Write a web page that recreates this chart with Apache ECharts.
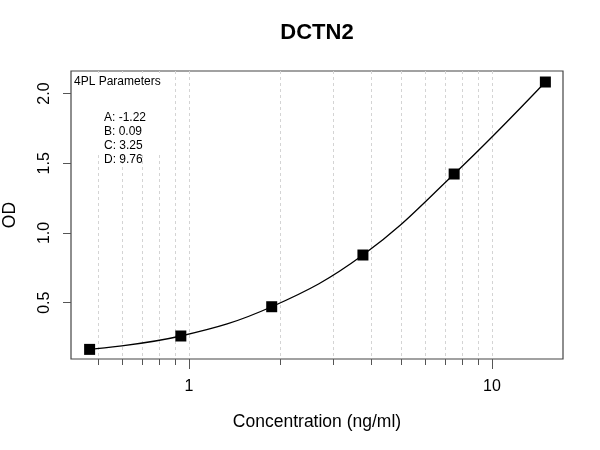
<!DOCTYPE html>
<html>
<head>
<meta charset="utf-8">
<script src="https://cdn.jsdelivr.net/npm/echarts@6/dist/echarts.min.js"></script>
<style>
  html, body { margin: 0; padding: 0; background: #fff; }
  #chart { width: 600px; height: 450px; }
</style>
</head>
<body>
<div id="chart"></div>
<script>
// standard points (ng/ml, OD)
const concentrations = [0.47, 0.94, 1.875, 3.75, 7.5, 15];
const odValues = [0.165, 0.261, 0.471, 0.842, 1.423, 2.083];

// axis ticks
const xMinorTicks = [0.5, 0.6, 0.7, 0.8, 0.9, 1, 2, 3, 4, 5, 6, 7, 8, 9, 10];
const xMajorTicks = [1, 10];
const yTicks = [0.5, 1.0, 1.5, 2.0];

const paramLines = ['A: -1.22', 'B: 0.09', 'C: 3.25', 'D: 9.76'];

const FONT = 'Liberation Sans, Arial, sans-serif';
const xMin = 0.408, xMax = 17.15;
const yMin = 0.096, yMax = 2.162;

const chart = echarts.init(document.getElementById('chart'));

const points = concentrations.map((c, i) => [c, odValues[i]]);

chart.setOption({
  animation: false,
  title: {
    text: 'DCTN2',
    left: 317,
    top: 22,
    textAlign: 'center',
    padding: 0,
    textStyle: { fontFamily: FONT, fontSize: 22, fontWeight: 'bold', color: '#000' }
  },
  grid: {
    left: 71, right: 37, top: 71, bottom: 91,
    outerBoundsMode: 'none', containLabel: false,
    show: true, borderColor: '#444', borderWidth: 1.2, backgroundColor: 'transparent'
  },
  xAxis: [
    {
      type: 'log', logBase: 10, min: xMin, max: xMax,
      name: 'Concentration (ng/ml)', nameLocation: 'middle', nameGap: 54,
      nameTextStyle: { fontFamily: FONT, fontSize: 17.5, color: '#000' },
      axisLine: { show: false },
      axisTick: { show: true, length: 6, customValues: xMinorTicks, lineStyle: { color: '#555', width: 1 } },
      axisLabel: { show: false },
      splitLine: { show: true, lineStyle: { color: '#d4d4d4', type: [3, 3], width: 1 } }
    },
    {
      type: 'log', logBase: 10, min: xMin, max: xMax, position: 'bottom',
      axisLine: { show: false },
      axisTick: { show: true, length: 10, customValues: xMajorTicks, lineStyle: { color: '#555', width: 1 } },
      axisLabel: {
        show: true, customValues: xMajorTicks, margin: 20,
        fontFamily: FONT, fontSize: 16, color: '#000'
      },
      splitLine: { show: false }
    }
  ],
  yAxis: {
    type: 'value', min: yMin, max: yMax,
    name: 'OD', nameLocation: 'middle', nameGap: 52,
    nameTextStyle: { fontFamily: FONT, fontSize: 17.5, color: '#000' },
    axisLine: { show: false },
    axisTick: { show: true, length: 8, customValues: yTicks, lineStyle: { color: '#555', width: 1 } },
    axisLabel: {
      show: true, customValues: yTicks, rotate: 90, margin: 18,
      fontFamily: FONT, fontSize: 16, color: '#000',
      formatter: v => v.toFixed(1)
    },
    splitLine: { show: false }
  },
  graphic: [
    {
      type: 'rect', z: 10, silent: true,
      shape: { x: 73, y: 73, width: 95, height: 79 },
      style: { fill: '#fff' }
    },
    {
      type: 'text', z: 11, left: 74, top: 76,
      style: { text: '4PL Parameters', font: '12px ' + FONT, fill: '#000' }
    },
    {
      type: 'text', z: 11, left: 104, top: 111,
      style: { text: paramLines.join('\n'), font: '12px ' + FONT, lineHeight: 14, fill: '#000' }
    }
  ],
  series: [
    {
      type: 'line', xAxisIndex: 0, data: points, smooth: 0.4,
      symbol: 'none', lineStyle: { color: '#000', width: 1.3 }, z: 3
    },
    {
      type: 'scatter', xAxisIndex: 0, data: points,
      symbol: 'rect', symbolSize: 11, itemStyle: { color: '#000', opacity: 1 }, z: 4
    }
  ]
});
</script>
</body>
</html>
